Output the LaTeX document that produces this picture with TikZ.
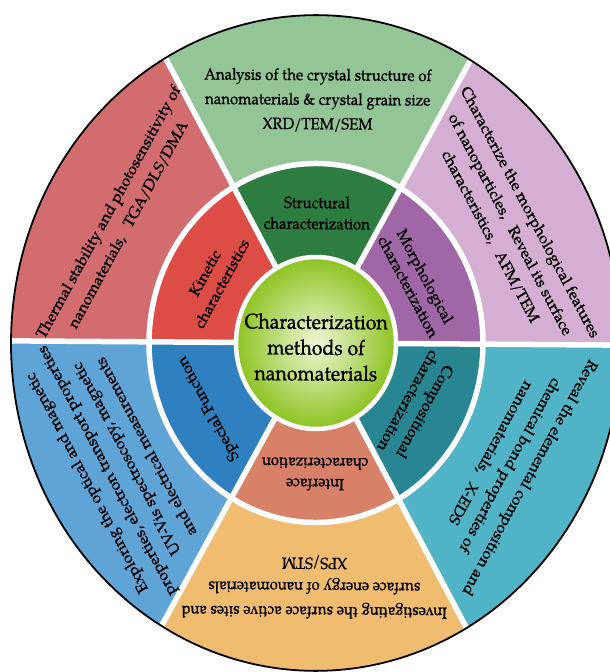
\documentclass[tikz,border=0pt]{standalone}
\usepackage{fontspec}
\setmainfont{TeX Gyre Pagella}[FakeBold=1.0]
\definecolor{greenO}{RGB}{148,197,150}
\definecolor{greenI}{RGB}{46,125,64}
\definecolor{pinkO}{RGB}{213,175,211}
\definecolor{purpleI}{RGB}{160,103,166}
\definecolor{tealO}{RGB}{80,179,198}
\definecolor{tealI}{RGB}{40,134,146}
\definecolor{orangeO}{RGB}{240,189,112}
\definecolor{salmonI}{RGB}{216,128,104}
\definecolor{blueO}{RGB}{94,164,214}
\definecolor{blueI}{RGB}{46,128,192}
\definecolor{redO}{RGB}{210,108,110}
\definecolor{redI}{RGB}{222,76,70}
\definecolor{limeC}{RGB}{140,195,32}
\definecolor{paleC}{RGB}{238,247,214}
\begin{document}
\begin{tikzpicture}[x=1pt,y=1pt,
  outtxt/.style={align=center, text=black, inner sep=0pt, font=\fontsize{15}{22.8}\selectfont},
  intxt/.style={align=center, text=black, inner sep=0pt, font=\fontsize{15}{19.5}\selectfont},
  ctxt/.style={align=center, text=black, inner sep=0pt, font=\fontsize{19.5}{24}\selectfont},
  divider/.style={white, line width=5.5pt}]
\useasboundingbox (0,0) rectangle (610,672);
\clip (0,0) rectangle (610,672);
\begin{scope}[shift={(316,329)}, rotate=-0.4, yscale=1.075, transform shape]
  % outer sectors
  \fill[pinkO]   (0,0) -- (0:305)   arc[start angle=0,   end angle=60,  radius=305] -- cycle;
  \fill[greenO]  (0,0) -- (60:305)  arc[start angle=60,  end angle=120, radius=305] -- cycle;
  \fill[redO]    (0,0) -- (120:305) arc[start angle=120, end angle=180, radius=305] -- cycle;
  \fill[blueO]   (0,0) -- (180:305) arc[start angle=180, end angle=240, radius=305] -- cycle;
  \fill[orangeO] (0,0) -- (240:305) arc[start angle=240, end angle=300, radius=305] -- cycle;
  \fill[tealO]   (0,0) -- (300:305) arc[start angle=300, end angle=360, radius=305] -- cycle;
  % inner sectors
  \fill[purpleI] (0,0) -- (0:167)   arc[start angle=0,   end angle=60,  radius=167] -- cycle;
  \fill[greenI]  (0,0) -- (60:167)  arc[start angle=60,  end angle=120, radius=167] -- cycle;
  \fill[redI]    (0,0) -- (120:167) arc[start angle=120, end angle=180, radius=167] -- cycle;
  \fill[blueI]   (0,0) -- (180:167) arc[start angle=180, end angle=240, radius=167] -- cycle;
  \fill[salmonI] (0,0) -- (240:167) arc[start angle=240, end angle=300, radius=167] -- cycle;
  \fill[tealI]   (0,0) -- (300:167) arc[start angle=300, end angle=360, radius=167] -- cycle;
  % dividers
  \foreach \a in {0,60,120,180,240,300}
    \draw[divider] (0,0) -- (\a:305);
  \draw[divider] (0,0) circle (167);
  \draw[black, line width=1.8pt] (0,0) circle (305);
  % centre
  \shade[inner color=paleC, outer color=limeC] (0,0) circle (80);
  \draw[white, line width=4.5pt] (0,0) circle (80);
  \node[ctxt] (centre) at (0,-4) {Characterization\\methods of\\nanomaterials};
  % inner ring texts
  \node[intxt] (struct) at (90:121) {Structural\\characterization};
  \node[intxt, rotate=-60] (morph) at (30:116) {Morphological\\characterization};
  \node[intxt, rotate=-120] (comp) at (-30:117) {Compositional\\characterization};
  \node[intxt, rotate=180] (inter) at (270:122) {Interface\\characterization};
  \node[intxt, rotate=120] (special) at (210:123) {Special Function};
  \node[intxt, rotate=60] (kinetic) at (150:119) {Kinetic\\characteristics};
  % outer ring texts
  \node[outtxt] (structO) at (90:226) {Analysis of the crystal structure of\\nanomaterials \& crystal grain size\\XRD/TEM/SEM};
  \node[outtxt, rotate=-60] (morphO) at (30:223) {Characterize the morphological features\\of nanoparticles,\hspace{0.7em}Reveal its surface\\characteristics,\hspace{0.7em}AFM/TEM};
  \node[outtxt, rotate=-120] (compO) at (-30:225) {Reveal the elemental composition and\\chemical bond properties of\\nanomaterials,\hspace{0.7em}X-EDS};
  \node[outtxt, rotate=180] (interO) at (270:227) {Investigating the surface active sites and\\surface energy of nanomaterials\\XPS/STM};
  \node[outtxt, rotate=120] (specialO) at (210:230) {Exploring the optical and magnetic\\properties, electron transport properties\\UV-Vis spectroscopy, magnetic\\and electrical measurements};
  \node[outtxt, rotate=60] (kineticO) at (150:229) {Thermal stability and photosensitivity of\\nanomaterials,\hspace{0.7em}TGA/DLS/DMA};
\end{scope}
\end{tikzpicture}
\end{document}
